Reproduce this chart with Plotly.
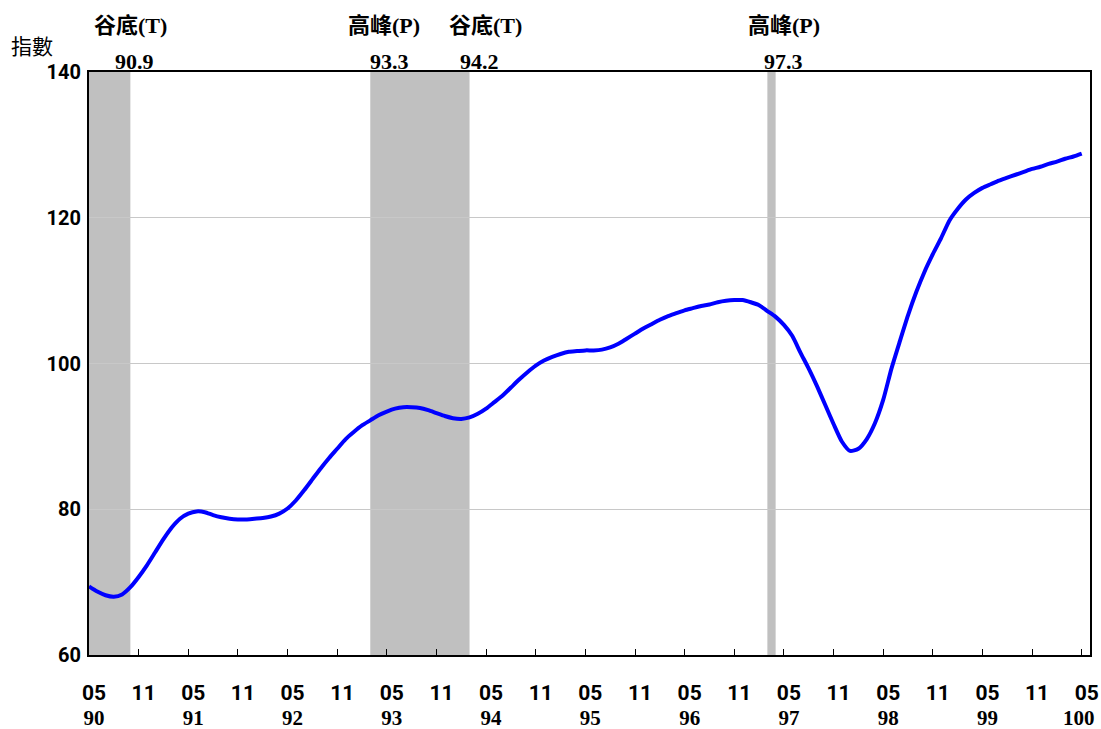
import plotly.graph_objects as go

# Monthly index values, 90/05 .. 100/05 (ROC years)
index_values = [
    69.4, 68.7, 68.2, 68.0, 68.3, 69.3, 70.7, 72.3, 74.1, 75.9,
    77.5, 78.7, 79.4, 79.7, 79.6, 79.2, 78.9, 78.7, 78.6, 78.6,
    78.7, 78.8, 79.0, 79.4, 80.1, 81.2, 82.6, 84.1, 85.6, 87.0,
    88.3, 89.6, 90.6, 91.5, 92.2, 92.9, 93.4, 93.8, 94.0, 94.0,
    93.9, 93.6, 93.2, 92.8, 92.5, 92.4, 92.6, 93.1, 93.8, 94.7,
    95.6, 96.7, 97.8, 98.8, 99.7, 100.4, 100.9, 101.3, 101.6, 101.7,
    101.8, 101.8, 101.9, 102.2, 102.7, 103.4, 104.1, 104.8, 105.4, 106.0,
    106.5, 106.9, 107.3, 107.6, 107.9, 108.1, 108.4, 108.6, 108.7, 108.7,
    108.4, 108.0, 107.2, 106.4, 105.3, 103.8, 101.5, 99.3, 96.9, 94.3,
    91.7, 89.3, 88.0, 88.3, 89.6, 91.8, 95.0, 99.3, 103.0, 106.6,
    109.8, 112.6, 115.0, 117.2, 119.6, 121.2, 122.5, 123.4, 124.1, 124.6,
    125.1, 125.5, 125.9, 126.3, 126.7, 127.0, 127.4, 127.7, 128.1, 128.4,
    128.8,
]
months = list(range(len(index_values)))

# Axis tick labels (every 6 months)
tick_months = ["05", "11"] * 10 + ["05"]
tick_years = ["90", "", "91", "", "92", "", "93", "", "94", "", "95", "",
              "96", "", "97", "", "98", "", "99", "", "100"]
y_ticks = [60, 80, 100, 120, 140]

# Turning points
shade_periods = [(0, 4), (34, 45), (82, 82)]
turning_labels = ["谷底(T)", "高峰(P)", "谷底(T)", "高峰(P)"]
turning_dates = ["90.9", "93.3", "94.2", "97.3"]
turning_pos = [5.0, 35.7, 47.9, 84.0]
date_pos = [5.5, 36.3, 47.2, 83.9]

NARROW = "Roboto, Liberation Sans Narrow, DejaVu Sans Condensed, sans-serif"
SERIF = "Liberation Serif, Times New Roman, serif"
CJK = "Noto Sans CJK TC, Noto Sans CJK SC, sans-serif"

fig = go.Figure()
fig.add_trace(go.Scatter(
    x=months, y=index_values, mode="lines",
    line=dict(color="#0000FF", width=4, shape="spline", smoothing=0.6),
    showlegend=False, hoverinfo="skip",
))

for s, e in shade_periods:
    fig.add_shape(type="rect", xref="x", yref="paper", x0=s, x1=e + 1,
                  y0=0, y1=1, fillcolor="#C0C0C0", line_width=0, layer="between")

for lab, xp in zip(turning_labels, turning_pos):
    fig.add_annotation(x=xp, xref="x", y=(655 - 23) / 583, yref="paper",
                       text="<b>" + lab[:2] + "</b><span style='font-family:" + SERIF + "'><b>" + lab[2:] + "</b></span>",
                       showarrow=False, font=dict(family=CJK, size=22, color="black"),
                       xanchor="center", yanchor="middle")
for d, xp in zip(turning_dates, date_pos):
    fig.add_annotation(x=xp, xref="x", y=(655 - 61) / 583, yref="paper",
                       text="<b>" + d + "</b>", showarrow=False,
                       font=dict(family=SERIF, size=22, color="black"),
                       xanchor="center", yanchor="middle")

fig.add_annotation(x=(32 - 89) / 1001, xref="paper", y=(655 - 45) / 583, yref="paper",
                   text="指數", showarrow=False,
                   font=dict(family=CJK, size=21, color="black"),
                   xanchor="center", yanchor="middle")


def year_text(y):
    if not y:
        return "&nbsp;"
    if len(y) > 2:
        return y + "&nbsp;&nbsp;&nbsp;"
    return y


ticktext = [
    "<span style='font-family:" + NARROW + ";font-size:21px'><b>" + m + "</b></span><br>"
    + "<span style='font-family:" + SERIF + ";font-size:21px'><b>" + year_text(y) + "</b></span>"
    for m, y in zip(tick_months, tick_years)
]
y_ticktext = ["<b>" + str(v) + "</b>" for v in y_ticks]

fig.update_layout(
    width=1101, height=729,
    margin=dict(l=89, r=11, t=72, b=74, autoexpand=False),
    paper_bgcolor="white", plot_bgcolor="white",
    xaxis=dict(
        range=[0, 121], tickmode="array",
        tickvals=list(range(0, 121, 6)), ticktext=ticktext,
        ticks="inside", ticklen=6, tickcolor="black", tickwidth=1,
        showgrid=False, zeroline=False, automargin=False,
        ticklabeloverflow="allow",
        showline=True, linecolor="black", linewidth=2, mirror=True,
        tickfont=dict(family=NARROW, size=19, color="black"),
        ticklabelstandoff=20, ticklabelshift=5,
    ),
    yaxis=dict(
        range=[60, 140], tickmode="array", tickvals=y_ticks,
        ticktext=y_ticktext, automargin=False,
        ticklabeloverflow="allow",
        showgrid=True, gridcolor="#C8C8C8", gridwidth=1,
        zeroline=False, ticks="",
        showline=True, linecolor="black", linewidth=2, mirror=True,
        tickfont=dict(family=NARROW, size=20, color="black"),
        ticklabelstandoff=2,
    ),
)

fig.write_html(
    "out.html",
    config={"responsive": False, "displayModeBar": False},
    post_script=(
        "document.body.style.margin='0';"
        "document.body.style.overflow='hidden';"
    ),
)
